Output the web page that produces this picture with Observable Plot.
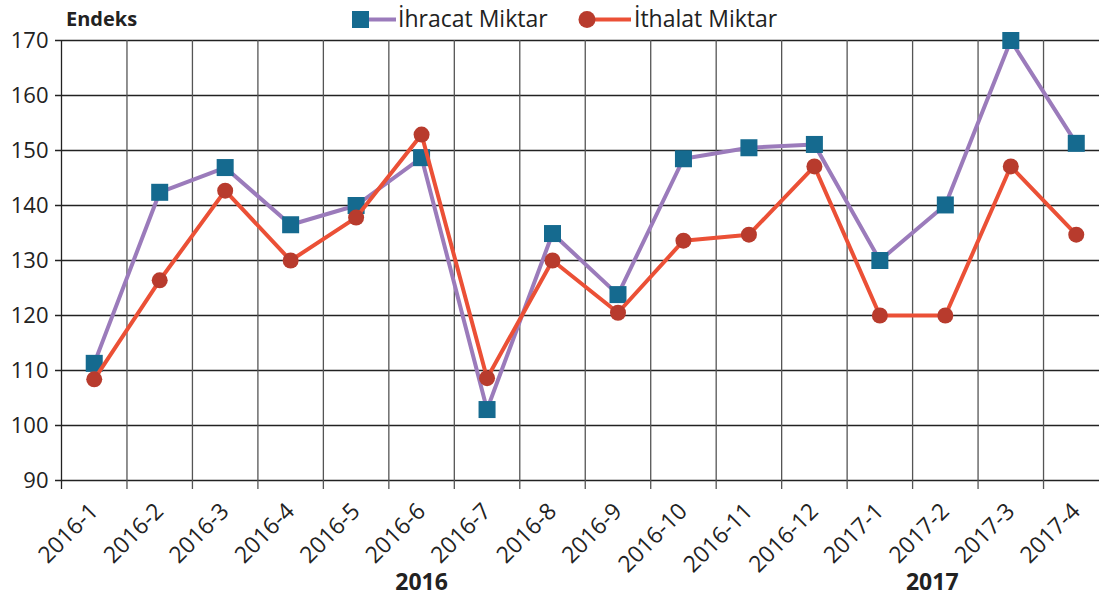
<!DOCTYPE html>
<html><head><meta charset="utf-8">
<script src="https://cdn.jsdelivr.net/npm/d3@7"></script>
<script src="https://cdn.jsdelivr.net/npm/@observablehq/plot@0.6"></script>
<style>
html,body{margin:0;padding:0;background:#fff;overflow:hidden}
#wrap{position:relative;width:1099px;height:597px;font-family:"Open Sans",sans-serif;color:#222}
#overlay{position:absolute;left:0;top:0;pointer-events:none}
</style></head><body>
<div id="wrap"></div>
<script>
const months = ["2016-1","2016-2","2016-3","2016-4","2016-5","2016-6","2016-7","2016-8","2016-9","2016-10","2016-11","2016-12","2017-1","2017-2","2017-3","2017-4"];
const ihracat = [111.3,142.4,146.9,136.5,140.0,148.7,102.9,134.9,123.8,148.5,150.5,151.1,130.0,140.1,170.0,151.3];
const ithalat = [108.4,126.4,142.7,130.0,137.8,152.9,108.6,130.0,120.5,133.6,134.7,147.1,120.0,120.0,147.1,134.7];
const yTicks = [90,100,110,120,130,140,150,160,170];
const years = ["2016","2017"];
const seriesNames = ["İhracat Miktar","İthalat Miktar"];
const yAxisTitle = "Endeks";

const idx = months.map((_, i) => i);
const rowsEx = idx.map(i => ({i, v: ihracat[i]}));
const rowsIm = idx.map(i => ({i, v: ithalat[i]}));
const bandEdges = idx.slice(0, -1).map(i => i + 0.5);

const cEx = "#9b7bbb", cExM = "#156a8f", cIm = "#eb5036", cImM = "#b83b2d";

const chart = Plot.plot({
  width: 1099, height: 597,
  marginTop: 40, marginBottom: 117, marginLeft: 62, marginRight: 0,
  style: {fontFamily: '"Open Sans", sans-serif', color: "#222", background: "#fff", overflow: "visible"},
  x: {type: "linear", domain: [-0.5, months.length - 0.5], range: [61, 1108.5]},
  y: {domain: [90, 170], range: [480, 40]},
  marks: [
    Plot.ruleY(yTicks, {stroke: "#222", strokeWidth: 1.3, insetLeft: -7}),
    Plot.ruleX(bandEdges, {stroke: "#555", strokeWidth: 1.3, insetBottom: -9}),
    Plot.ruleX([-0.5], {stroke: "#222", strokeWidth: 1.3, insetBottom: -9}),
    Plot.axisY({ticks: yTicks, tickSize: 0, tickPadding: 14, fontSize: 22, label: null}),
    Plot.axisX({ticks: idx, tickFormat: i => months[i], tickSize: 0, tickPadding: 27, tickRotate: -45, fontSize: 23, label: null}),
    Plot.line(rowsEx, {x: "i", y: "v", stroke: cEx, strokeWidth: 4}),
    Plot.dot(rowsEx, {x: "i", y: "v", symbol: "square", r: 9.6, fill: cExM, stroke: null}),
    Plot.line(rowsIm, {x: "i", y: "v", stroke: cIm, strokeWidth: 4}),
    Plot.dot(rowsIm, {x: "i", y: "v", symbol: "circle", r: 8, fill: cImM, stroke: null}),
    // year group labels, centred under their month groups
    Plot.text(years, {x: (d, k) => k === 0 ? 5 : 12.8, text: d => d, frameAnchor: "bottom", lineAnchor: "bottom", dy: 109, fontSize: 23, fontWeight: "bold", fill: "#222"})
  ]
});
const wrap = document.getElementById("wrap");
wrap.appendChild(chart);

// title + legend overlay
const ns = "http://www.w3.org/2000/svg";
const ov = document.createElementNS(ns, "svg");
ov.setAttribute("id", "overlay");
ov.setAttribute("width", 1099);
ov.setAttribute("height", 40);
function el(tag, attrs, txt) {
  const e = document.createElementNS(ns, tag);
  for (const k in attrs) e.setAttribute(k, attrs[k]);
  if (txt) e.textContent = txt;
  ov.appendChild(e);
  return e;
}
el("text", {x: 66, y: 26, "font-size": 20, "font-weight": "bold", fill: "#222", "font-family": '"Open Sans", sans-serif'}, yAxisTitle);
el("line", {x1: 366, x2: 396, y1: 19.5, y2: 19.5, stroke: cEx, "stroke-width": 4});
el("rect", {x: 352, y: 11, width: 17, height: 17, fill: cExM});
el("text", {x: 398, y: 27, "font-size": 23, fill: "#222", "font-family": '"Open Sans", sans-serif'}, seriesNames[0]);
el("line", {x1: 590, x2: 631, y1: 19.5, y2: 19.5, stroke: cIm, "stroke-width": 4});
el("circle", {cx: 587, cy: 19.5, r: 8.5, fill: cImM});
el("text", {x: 634, y: 27, "font-size": 23, fill: "#222", "font-family": '"Open Sans", sans-serif'}, seriesNames[1]);
wrap.appendChild(ov);
</script>
</body></html>
